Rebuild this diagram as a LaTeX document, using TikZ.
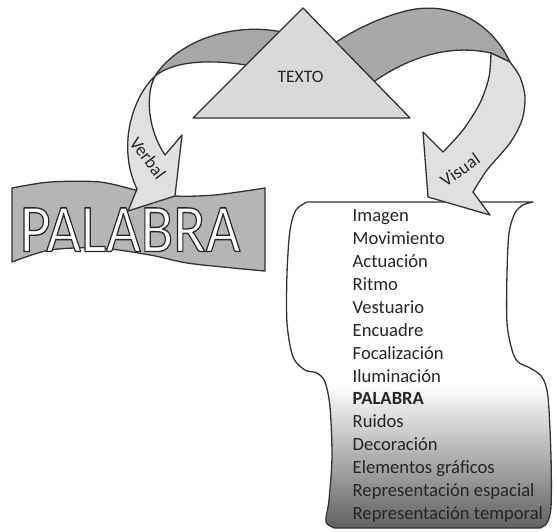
\documentclass[tikz,border=0pt]{standalone}
\usepackage{fontspec}
\setmainfont{Carlito}
\definecolor{bandgray}{gray}{0.66}
\definecolor{bannergray}{gray}{0.71}
\definecolor{frontgray}{gray}{0.88}
\definecolor{trigray}{gray}{0.85}
\definecolor{inkgray}{gray}{0.2}
\pgfdeclareverticalshading{scrollshade}{100bp}{color(0bp)=(black!62); color(25bp)=(black!62); color(47bp)=(white); color(100bp)=(white)}
\newcommand{\outlinedword}[1]{\special{pdf:literal direct 0.15 G 1.3 w 2 Tr}#1\special{pdf:literal direct 0 Tr}}
\begin{document}
\begin{tikzpicture}[x=1pt,y=-1pt,line join=round,
  edge/.style={draw=inkgray,line width=1.3pt},
  listtext/.style={font=\fontsize{18.6}{22}\selectfont,anchor=base west,inner sep=0pt,text=black!85},
  bigword/.style={font=\fontsize{68}{80}\selectfont,anchor=base,inner sep=0pt},
  arrowlabel/.style={font=\fontsize{18}{21}\selectfont,inner sep=0pt,text=black!85}]
\useasboundingbox (0,0) rectangle (556,531);
\fill[white] (0,0) rectangle (556,531);
% scroll
\path[edge,shading=scrollshade] (307,202) -- (533,202)
  -- plot[smooth] coordinates {(533,202) (523,205) (515,213) (509,233) (507,273) (507,323) (512,350) (518,362) (530,368) (542,377) (548,397) (551,457) (551,507) (547,523) (540,528)}
  -- (335,528)
  -- plot[smooth] coordinates {(335,528) (326,522) (329,500) (332,457) (330,407) (325,382) (317,373) (305,370) (293,357) (287,323) (287,273) (290,230) (296,210) (307,202)}
  -- cycle;
% banner
\path[edge,fill=bannergray] plot[smooth] coordinates {(12,188) (50,182) (100,182) (140,191) (175,196) (215,195) (265,188)}
  -- (265,271)
  -- plot[smooth] coordinates {(265,271) (233,268) (187,263) (150,255) (100,248) (50,250) (12,262)}
  -- cycle;
% back bands
\path[edge,fill=bandgray] (290,34) .. controls (240,20) and (180,38) .. (155,76)
  .. controls (175,60) and (215,58) .. (262,68) -- cycle;
\path[edge,fill=bandgray] (325,50) .. controls (345,35) and (375,18) .. (410,10)
  .. controls (450,2) and (490,20) .. (510,62) -- (491,53)
  .. controls (455,45) and (410,52) .. (360,92) -- cycle;
% triangle
\path[edge,fill=trigray] (303,8) -- (410,118) -- (193,118) -- cycle;
% front of arrows
\path[edge,fill=frontgray] (155,76) .. controls (130,100) and (118,150) .. (137,189)
  -- (128,211) -- (175,196) -- (182,135) -- (165,155)
  .. controls (148,130) and (145,95) .. (155,76) -- cycle;
\path[edge,fill=frontgray] (491,53) -- (510,62)
  -- plot[smooth] coordinates {(510,62) (520,77) (525,97) (522,120) (510,143) (487,170) (473,192)}
  -- (490,215) -- (428,197) -- (423,132) -- (443,152)
  -- plot[smooth] coordinates {(443,152) (463,130) (480,103) (489,77) (491,53)}
  -- cycle;
% texts
\node[font=\fontsize{17.5}{20}\selectfont,anchor=base,inner sep=0pt,text=black!85] (texto) at (300.5,82) {TEXTO};
\node[arrowlabel,rotate=-53] (verbal) at (148,158) {Verbal};
\node[arrowlabel,rotate=35] (visual) at (460,170) {Visual};
\node[bigword,text=white] (palabra) at (130,251.5) {\scalebox{0.88}[1]{\outlinedword{PALABRA}}};
\foreach \t [count=\i from 0] in {Imagen,Movimiento,Actuación,Ritmo,Vestuario,Encuadre,Focalización,Iluminación,{\textbf{PALABRA}},Ruidos,Decoración,Elementos gráficos,Representación espacial,Representación temporal}
  \node[listtext] (item\i) at (352.5,221.7+22.9*\i) {\t};
\end{tikzpicture}
\end{document}
